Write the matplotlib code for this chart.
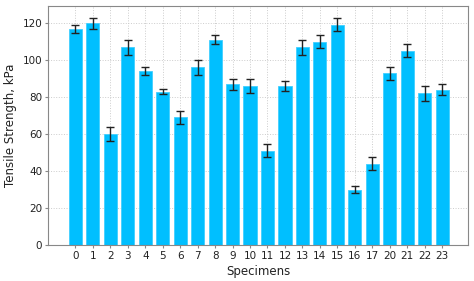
import numpy as np
import matplotlib.pyplot as plt

specimens = ['0', '1', '2', '3', '4', '5', '6', '7', '8', '9', '10', '11',
             '12', '13', '14', '15', '16', '17', '20', '21', '22', '23']
strength = [117, 120, 60, 107, 94, 83, 69, 96, 111, 87, 86, 51,
            86, 107, 110, 119, 30, 44, 93, 105, 82, 84]
errors = [2.2, 3, 4, 4, 2, 1.5, 3.5, 4, 2.5, 3, 4, 3.5,
          2.5, 4, 3.5, 3.5, 2, 3.5, 3.5, 3.5, 4, 3]

indx = np.arange(len(specimens))

fig, ax = plt.subplots(figsize=(4.74, 2.81), dpi=100)
ax.bar(indx, strength, 0.75, yerr=errors, color='#00BFFF',
       edgecolor='#40CFFF', linewidth=0.6, capsize=3,
       error_kw=dict(ecolor='#222222', elinewidth=1, capthick=1), zorder=2)

ax.set_xticks(indx)
ax.set_xticklabels(specimens)
ax.set_xlim(-1.55, len(specimens) + 0.5)
ax.grid(True, linestyle=':', color='#cccccc', linewidth=0.7, zorder=0)
ax.set_axisbelow(True)

for s in ax.spines.values():
    s.set_color('#888888')
ax.tick_params(colors='#888888', labelcolor='#222222', labelsize=7.5,
               length=2.5, pad=2)

ax.set_xlabel('Specimens', fontsize=8.5, color='#222222', labelpad=3)
ax.set_ylabel('Tensile Strength, kPa', fontsize=8.5, color='#222222', labelpad=4)

fig.subplots_adjust(left=0.102, right=0.988, top=0.978, bottom=0.128)
plt.savefig('out.png')
